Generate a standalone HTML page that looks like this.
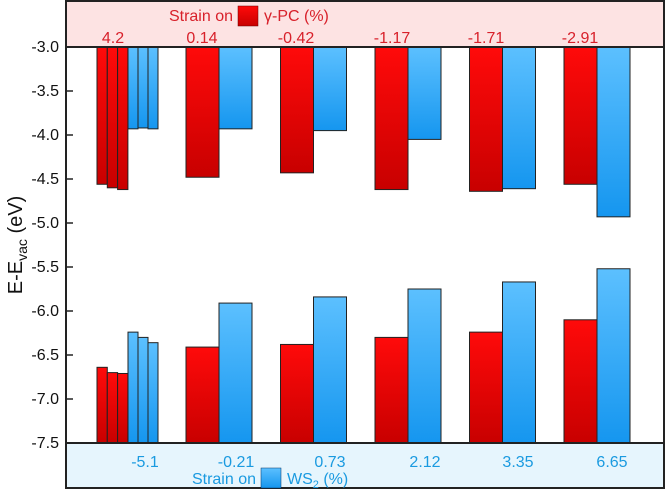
<!DOCTYPE html>
<html><head><meta charset="utf-8"><style>
body{margin:0;background:#fff}
svg text{font-family:"Liberation Sans",Arial,sans-serif}
</style></head><body>
<svg id="chart" width="666" height="490" viewBox="0 0 666 490">
<defs>
<linearGradient id="rg" x1="0" y1="0" x2="0" y2="1"><stop offset="0" stop-color="#ff0a0a"/><stop offset="1" stop-color="#c80000"/></linearGradient>
<linearGradient id="bg" x1="0" y1="0" x2="0" y2="1"><stop offset="0" stop-color="#5cc0ff"/><stop offset="1" stop-color="#1596ef"/></linearGradient>
</defs>
<rect x="66" y="1" width="598" height="46" fill="#fde3e3"/>
<rect x="66" y="443" width="598" height="45" fill="#e6f5fd"/>
<g id="bars"></g>
<rect x="66" y="1" width="598" height="487" fill="none" stroke="#222" stroke-width="2"/>
<line x1="66" y1="47" x2="664" y2="47" stroke="#222" stroke-width="2"/>
<line x1="66" y1="443" x2="664" y2="443" stroke="#222" stroke-width="2"/>
<g id="yaxis"></g>
<text x="22" y="245" font-size="20" text-anchor="middle" transform="rotate(-90 22 245)" fill="#111">E-E<tspan font-size="14" dy="5">vac</tspan><tspan dy="-5"> (eV)</tspan></text>
<g>
<text x="233" y="21" font-size="16" fill="#d8202a" text-anchor="end">Strain on</text>
<rect x="238" y="6" width="20" height="20" fill="url(#rg)" stroke="#600" stroke-width="0.5"/>
<text x="264" y="21" font-size="16" fill="#d8202a">γ-PC (%)</text>
</g>
<g>
<text x="256" y="484" font-size="16" fill="#1a9ae0" text-anchor="end">Strain on</text>
<rect x="261" y="468" width="20" height="20" fill="url(#bg)" stroke="#036" stroke-width="0.5"/>
<text x="287" y="484" font-size="16" fill="#1a9ae0">WS<tspan font-size="11" dy="4">2</tspan><tspan dy="-4"> (%)</tspan></text>
</g>
<g id="labels"></g>
</svg>
<script>
const pcStrain=["4.2","0.14","-0.42","-1.17","-1.71","-2.91"];
const wsStrain=["-5.1","-0.21","0.73","2.12","3.35","6.65"];
const yTicks=[-3.0,-3.5,-4.0,-4.5,-5.0,-5.5,-6.0,-6.5,-7.0,-7.5];
const firstRedCBM=[-4.56,-4.60,-4.62];
const firstBlueCBM=[-3.93,-3.92,-3.93];
const firstRedVBM=[-6.64,-6.70,-6.71];
const firstBlueVBM=[-6.24,-6.30,-6.36];
const redCBM=[-4.48,-4.43,-4.62,-4.64,-4.56];
const blueCBM=[-3.93,-3.95,-4.05,-4.61,-4.93];
const redVBM=[-6.41,-6.38,-6.30,-6.24,-6.10];
const blueVBM=[-5.91,-5.84,-5.75,-5.67,-5.52];
const NS="http://www.w3.org/2000/svg";
const y=v=>47+(-3-v)*88;
const groupX=i=>219+(i-1)*94.5;
const bars=document.getElementById('bars');
function rect(x,w,v0,v1,fill,name){
 const r=document.createElementNS(NS,'rect');
 const a=y(v0),b=y(v1);
 r.setAttribute('x',x);r.setAttribute('y',Math.min(a,b));r.setAttribute('width',w);r.setAttribute('height',Math.abs(b-a));
 r.setAttribute('fill',fill);r.setAttribute('stroke','#222');r.setAttribute('stroke-width','1');
 
 
 bars.appendChild(r);
}
for(let k=0;k<3;k++){
 rect(97+k*10.3,10.3,-3,firstRedCBM[k],'url(#rg)','red-cbm-bar-1');
 rect(128+k*10,10,-3,firstBlueCBM[k],'url(#bg)','blue-cbm-bar-1');
 rect(97+k*10.3,10.3,-7.5,firstRedVBM[k],'url(#rg)','red-vbm-bar-1');
 rect(128+k*10,10,-7.5,firstBlueVBM[k],'url(#bg)','blue-vbm-bar-1');
}
for(let i=0;i<redCBM.length;i++){
 const c=groupX(i+1);
 rect(c-33,33,-3,redCBM[i],'url(#rg)','red-cbm-bar-'+(i+2));
 rect(c,33,-3,blueCBM[i],'url(#bg)','blue-cbm-bar-'+(i+2));
 rect(c-33,33,-7.5,redVBM[i],'url(#rg)','red-vbm-bar-'+(i+2));
 rect(c,33,-7.5,blueVBM[i],'url(#bg)','blue-vbm-bar-'+(i+2));
}
const ya=document.getElementById('yaxis');
yTicks.forEach(v=>{
 const l=document.createElementNS(NS,'line');
 l.setAttribute('x1',66);l.setAttribute('x2',73);l.setAttribute('y1',y(v));l.setAttribute('y2',y(v));
 l.setAttribute('stroke','#222');l.setAttribute('stroke-width','1.5');
 
 
 ya.appendChild(l);
 const t=document.createElementNS(NS,'text');
 t.setAttribute('x',59);t.setAttribute('y',y(v)+5);t.setAttribute('text-anchor','end');t.setAttribute('font-size','16');t.setAttribute('fill','#111');
 t.textContent=v.toFixed(1);
 
 
 ya.appendChild(t);
});
const lb=document.getElementById('labels');
const topX=[113,202,296,392,486,580], botX=[145,236,330,425,518,612];
pcStrain.forEach((s,i)=>{
 const t=document.createElementNS(NS,'text');
 t.setAttribute('x',topX[i]);t.setAttribute('y',43);t.setAttribute('text-anchor','middle');t.setAttribute('font-size','16');t.setAttribute('fill','#d8202a');
 t.textContent=s;
 
 
 lb.appendChild(t);
});
wsStrain.forEach((s,i)=>{
 const t=document.createElementNS(NS,'text');
 t.setAttribute('x',botX[i]);t.setAttribute('y',467);t.setAttribute('text-anchor','middle');t.setAttribute('font-size','16');t.setAttribute('fill','#1a9ae0');
 t.textContent=s;
 
 
 lb.appendChild(t);
});
</script>
</body></html>
